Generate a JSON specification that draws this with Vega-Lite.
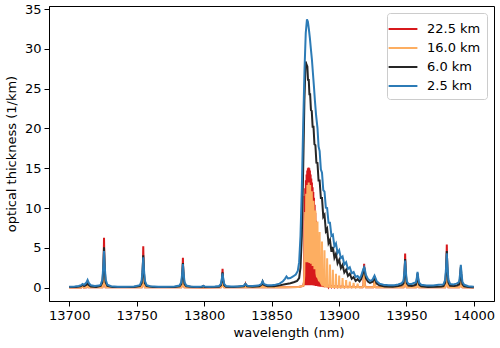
{
"$schema": "https://vega.github.io/schema/vega-lite/v6.json",
"width": 445, "height": 295,
"autosize": {"type": "none"},
"padding": {"left": 49, "top": 6, "right": 6, "bottom": 47},
"background": "white",
"datasets": {
"r": [
{"s":"22.5 km","x":13700,"y":0.02},{"s":"22.5 km","x":13709.0,"y":0.02},{"s":"22.5 km","x":13709.9,"y":0.3},{"s":"22.5 km","x":13710.8,"y":0.02},{"s":"22.5 km","x":13712.8,"y":0.03},{"s":"22.5 km","x":13713.6,"y":0.5},{"s":"22.5 km","x":13714.4,"y":0.03},
{"s":"22.5 km","x":13724.6,"y":0.03},{"s":"22.5 km","x":13725.3,"y":0.6},{"s":"22.5 km","x":13725.8,"y":6.26},{"s":"22.5 km","x":13726.3,"y":0.6},{"s":"22.5 km","x":13727.0,"y":0.03},
{"s":"22.5 km","x":13753.7,"y":0.03},{"s":"22.5 km","x":13754.4,"y":0.5},{"s":"22.5 km","x":13754.9,"y":5.2},{"s":"22.5 km","x":13755.4,"y":0.5},{"s":"22.5 km","x":13756.1,"y":0.03},
{"s":"22.5 km","x":13783.1,"y":0.03},{"s":"22.5 km","x":13783.8,"y":0.38},{"s":"22.5 km","x":13784.3,"y":3.74},{"s":"22.5 km","x":13784.8,"y":0.38},{"s":"22.5 km","x":13785.5,"y":0.03},
{"s":"22.5 km","x":13798.9,"y":0.02},{"s":"22.5 km","x":13799.4,"y":0.15},{"s":"22.5 km","x":13799.9,"y":0.02},
{"s":"22.5 km","x":13812.5,"y":0.03},{"s":"22.5 km","x":13813.2,"y":0.24},{"s":"22.5 km","x":13813.7,"y":2.35},{"s":"22.5 km","x":13814.2,"y":0.24},{"s":"22.5 km","x":13814.9,"y":0.03},
{"s":"22.5 km","x":13830.1,"y":0.04},{"s":"22.5 km","x":13830.7,"y":0.4},{"s":"22.5 km","x":13831.3,"y":0.04},
{"s":"22.5 km","x":13842.8,"y":0.05},{"s":"22.5 km","x":13843.4,"y":0.6},{"s":"22.5 km","x":13844.0,"y":0.05},
{"s":"22.5 km","x":13860,"y":0.05},{"s":"22.5 km","x":13870,"y":0.08},{"s":"22.5 km","x":13873.5,"y":0.2},{"s":"22.5 km","x":13874.0,"y":0.6},{"s":"22.5 km","x":13874.25,"y":0.3},
{"s":"22.5 km","x":13874.5,"y":11.5},{"s":"22.5 km","x":13874.75,"y":0.3},
{"s":"22.5 km","x":13875.0,"y":12.5},{"s":"22.5 km","x":13875.25,"y":0.3},
{"s":"22.5 km","x":13875.5,"y":13.5},{"s":"22.5 km","x":13875.75,"y":0.3},
{"s":"22.5 km","x":13876.0,"y":14.2},{"s":"22.5 km","x":13876.25,"y":0.3},
{"s":"22.5 km","x":13876.5,"y":14.7},{"s":"22.5 km","x":13876.75,"y":0.3},
{"s":"22.5 km","x":13877.0,"y":15.0},{"s":"22.5 km","x":13877.25,"y":0.3},
{"s":"22.5 km","x":13877.5,"y":15.1},{"s":"22.5 km","x":13877.75,"y":0.3},
{"s":"22.5 km","x":13878.0,"y":15.0},{"s":"22.5 km","x":13878.25,"y":0.3},
{"s":"22.5 km","x":13878.5,"y":14.7},{"s":"22.5 km","x":13878.75,"y":0.3},
{"s":"22.5 km","x":13879.0,"y":14.2},{"s":"22.5 km","x":13879.25,"y":0.3},
{"s":"22.5 km","x":13879.5,"y":13.7},{"s":"22.5 km","x":13879.75,"y":0.3},
{"s":"22.5 km","x":13880.0,"y":13.2},{"s":"22.5 km","x":13880.25,"y":0.3},
{"s":"22.5 km","x":13880.5,"y":12.6},{"s":"22.5 km","x":13880.75,"y":0.3},
{"s":"22.5 km","x":13881.0,"y":12.0},{"s":"22.5 km","x":13881.25,"y":0.25},
{"s":"22.5 km","x":13881.5,"y":11.3},{"s":"22.5 km","x":13881.75,"y":0.25},
{"s":"22.5 km","x":13882.0,"y":10.4},{"s":"22.5 km","x":13882.25,"y":0.25},
{"s":"22.5 km","x":13882.5,"y":9.4},{"s":"22.5 km","x":13882.75,"y":0.2},
{"s":"22.5 km","x":13883.0,"y":8.4},{"s":"22.5 km","x":13883.25,"y":0.2},
{"s":"22.5 km","x":13883.5,"y":7.4},{"s":"22.5 km","x":13883.75,"y":0.2},
{"s":"22.5 km","x":13884.0,"y":6.3},{"s":"22.5 km","x":13884.25,"y":0.2},
{"s":"22.5 km","x":13884.5,"y":5.3},{"s":"22.5 km","x":13884.75,"y":0.15},
{"s":"22.5 km","x":13885.0,"y":4.5},{"s":"22.5 km","x":13885.25,"y":0.15},
{"s":"22.5 km","x":13885.5,"y":3.8},{"s":"22.5 km","x":13885.75,"y":0.15},
{"s":"22.5 km","x":13886.0,"y":3.2},{"s":"22.5 km","x":13886.25,"y":0.12},
{"s":"22.5 km","x":13886.5,"y":2.7},{"s":"22.5 km","x":13886.75,"y":0.12},
{"s":"22.5 km","x":13887.0,"y":2.2},{"s":"22.5 km","x":13887.25,"y":0.1},
{"s":"22.5 km","x":13887.5,"y":1.8},{"s":"22.5 km","x":13887.75,"y":0.1},
{"s":"22.5 km","x":13888.0,"y":1.5},{"s":"22.5 km","x":13888.25,"y":0.08},
{"s":"22.5 km","x":13888.5,"y":1.2},{"s":"22.5 km","x":13888.75,"y":0.08},
{"s":"22.5 km","x":13889.0,"y":0.95},{"s":"22.5 km","x":13889.25,"y":0.06},
{"s":"22.5 km","x":13889.5,"y":0.8},{"s":"22.5 km","x":13889.75,"y":0.06},
{"s":"22.5 km","x":13890.0,"y":0.65},{"s":"22.5 km","x":13890.25,"y":0.05},
{"s":"22.5 km","x":13890.5,"y":0.55},{"s":"22.5 km","x":13890.9,"y":0.05},
{"s":"22.5 km","x":13891.25,"y":0.4},{"s":"22.5 km","x":13892.3,"y":0.04},{"s":"22.5 km","x":13893.35,"y":0.35},{"s":"22.5 km","x":13894.45,"y":0.04},{"s":"22.5 km","x":13895.5,"y":0.3},{"s":"22.5 km","x":13896.65,"y":0.04},{"s":"22.5 km","x":13897.8,"y":0.27},{"s":"22.5 km","x":13899.0,"y":0.04},{"s":"22.5 km","x":13900.2,"y":0.25},{"s":"22.5 km","x":13901.45,"y":0.03},{"s":"22.5 km","x":13902.7,"y":0.22},{"s":"22.5 km","x":13904.0,"y":0.03},{"s":"22.5 km","x":13905.35,"y":0.2},{"s":"22.5 km","x":13906.7,"y":0.03},{"s":"22.5 km","x":13908.05,"y":0.18},{"s":"22.5 km","x":13909.5,"y":0.03},{"s":"22.5 km","x":13910.9,"y":0.17},{"s":"22.5 km","x":13912.4,"y":0.03},{"s":"22.5 km","x":13913.85,"y":0.16},{"s":"22.5 km","x":13915.3,"y":0.03},
{"s":"22.5 km","x":13917.5,"y":0.04},{"s":"22.5 km","x":13918.2,"y":0.3},{"s":"22.5 km","x":13918.7,"y":3.0},{"s":"22.5 km","x":13919.2,"y":0.3},{"s":"22.5 km","x":13920.0,"y":0.04},
{"s":"22.5 km","x":13925.6,"y":0.03},{"s":"22.5 km","x":13925.9,"y":0.13},{"s":"22.5 km","x":13926.4,"y":1.3},{"s":"22.5 km","x":13926.9,"y":0.13},{"s":"22.5 km","x":13927.4,"y":0.03},
{"s":"22.5 km","x":13947.9,"y":0.03},{"s":"22.5 km","x":13948.6,"y":0.43},{"s":"22.5 km","x":13949.1,"y":4.28},{"s":"22.5 km","x":13949.6,"y":0.43},{"s":"22.5 km","x":13950.3,"y":0.03},
{"s":"22.5 km","x":13957.3,"y":0.03},{"s":"22.5 km","x":13957.8,"y":0.16},{"s":"22.5 km","x":13958.3,"y":1.6},{"s":"22.5 km","x":13958.8,"y":0.16},{"s":"22.5 km","x":13959.3,"y":0.03},
{"s":"22.5 km","x":13978.8,"y":0.03},{"s":"22.5 km","x":13979.5,"y":0.54},{"s":"22.5 km","x":13980.0,"y":5.4},{"s":"22.5 km","x":13980.5,"y":0.54},{"s":"22.5 km","x":13981.2,"y":0.03},
{"s":"22.5 km","x":13989.2,"y":0.03},{"s":"22.5 km","x":13989.9,"y":0.24},{"s":"22.5 km","x":13990.4,"y":2.4},{"s":"22.5 km","x":13990.9,"y":0.24},{"s":"22.5 km","x":13991.6,"y":0.03},
{"s":"22.5 km","x":14000,"y":0.02}
],
"o": [
{"s":"16.0 km","x":13700,"y":0.02},{"s":"16.0 km","x":13709.0,"y":0.02},{"s":"16.0 km","x":13709.9,"y":0.25},{"s":"16.0 km","x":13710.8,"y":0.02},{"s":"16.0 km","x":13712.8,"y":0.03},{"s":"16.0 km","x":13713.6,"y":0.4},{"s":"16.0 km","x":13714.4,"y":0.03},
{"s":"16.0 km","x":13724.6,"y":0.03},{"s":"16.0 km","x":13725.3,"y":0.5},{"s":"16.0 km","x":13725.8,"y":4.4},{"s":"16.0 km","x":13726.3,"y":0.5},{"s":"16.0 km","x":13727.0,"y":0.03},
{"s":"16.0 km","x":13753.7,"y":0.03},{"s":"16.0 km","x":13754.4,"y":0.4},{"s":"16.0 km","x":13754.9,"y":3.6},{"s":"16.0 km","x":13755.4,"y":0.4},{"s":"16.0 km","x":13756.1,"y":0.03},
{"s":"16.0 km","x":13783.1,"y":0.03},{"s":"16.0 km","x":13783.8,"y":0.3},{"s":"16.0 km","x":13784.3,"y":2.6},{"s":"16.0 km","x":13784.8,"y":0.3},{"s":"16.0 km","x":13785.5,"y":0.03},
{"s":"16.0 km","x":13798.9,"y":0.02},{"s":"16.0 km","x":13799.4,"y":0.12},{"s":"16.0 km","x":13799.9,"y":0.02},
{"s":"16.0 km","x":13812.5,"y":0.03},{"s":"16.0 km","x":13813.2,"y":0.18},{"s":"16.0 km","x":13813.7,"y":1.6},{"s":"16.0 km","x":13814.2,"y":0.18},{"s":"16.0 km","x":13814.9,"y":0.03},
{"s":"16.0 km","x":13830.1,"y":0.04},{"s":"16.0 km","x":13830.7,"y":0.35},{"s":"16.0 km","x":13831.3,"y":0.04},
{"s":"16.0 km","x":13842.8,"y":0.05},{"s":"16.0 km","x":13843.4,"y":0.5},{"s":"16.0 km","x":13844.0,"y":0.05},
{"s":"16.0 km","x":13860,"y":0.05},{"s":"16.0 km","x":13870,"y":0.08},{"s":"16.0 km","x":13873.8,"y":0.25},{"s":"16.0 km","x":13874.3,"y":1.5},{"s":"16.0 km","x":13874.6,"y":6.0},
{"s":"16.0 km","x":13875.0,"y":9.5},{"s":"16.0 km","x":13875.37,"y":3.2},{"s":"16.0 km","x":13875.75,"y":11.8},{"s":"16.0 km","x":13876.17,"y":3.2},{"s":"16.0 km","x":13876.6,"y":12.9},{"s":"16.0 km","x":13877.1,"y":3.2},{"s":"16.0 km","x":13877.6,"y":13.2},{"s":"16.0 km","x":13878.12,"y":3.1},{"s":"16.0 km","x":13878.65,"y":12.9},{"s":"16.0 km","x":13879.25,"y":3.0},{"s":"16.0 km","x":13879.85,"y":12.1},{"s":"16.0 km","x":13880.5,"y":2.7},{"s":"16.0 km","x":13881.15,"y":10.9},{"s":"16.0 km","x":13881.85,"y":2.3},{"s":"16.0 km","x":13882.55,"y":9.7},{"s":"16.0 km","x":13883.3,"y":1.8},
{"s":"16.0 km","x":13883.8,"y":1.3},{"s":"16.0 km","x":13884.1,"y":8.3},{"s":"16.0 km","x":13884.4,"y":1.3},
{"s":"16.0 km","x":13885.4,"y":0.8},{"s":"16.0 km","x":13885.7,"y":7.0},{"s":"16.0 km","x":13886.0,"y":0.8},
{"s":"16.0 km","x":13887.15,"y":0.45},{"s":"16.0 km","x":13887.45,"y":5.8},{"s":"16.0 km","x":13887.75,"y":0.45},
{"s":"16.0 km","x":13889.0,"y":0.25},{"s":"16.0 km","x":13889.3,"y":4.7},{"s":"16.0 km","x":13889.6,"y":0.25},
{"s":"16.0 km","x":13890.95,"y":0.15},{"s":"16.0 km","x":13891.25,"y":3.7},{"s":"16.0 km","x":13891.55,"y":0.15},
{"s":"16.0 km","x":13893.05,"y":0.1},{"s":"16.0 km","x":13893.35,"y":2.9},{"s":"16.0 km","x":13893.65,"y":0.1},
{"s":"16.0 km","x":13895.2,"y":0.08},{"s":"16.0 km","x":13895.5,"y":2.25},{"s":"16.0 km","x":13895.8,"y":0.08},
{"s":"16.0 km","x":13897.5,"y":0.06},{"s":"16.0 km","x":13897.8,"y":1.75},{"s":"16.0 km","x":13898.1,"y":0.06},
{"s":"16.0 km","x":13899.9,"y":0.05},{"s":"16.0 km","x":13900.2,"y":1.5},{"s":"16.0 km","x":13900.5,"y":0.05},
{"s":"16.0 km","x":13902.4,"y":0.05},{"s":"16.0 km","x":13902.7,"y":1.2},{"s":"16.0 km","x":13903.0,"y":0.05},
{"s":"16.0 km","x":13905.05,"y":0.05},{"s":"16.0 km","x":13905.35,"y":0.95},{"s":"16.0 km","x":13905.65,"y":0.05},
{"s":"16.0 km","x":13907.75,"y":0.05},{"s":"16.0 km","x":13908.05,"y":0.75},{"s":"16.0 km","x":13908.35,"y":0.05},
{"s":"16.0 km","x":13910.6,"y":0.05},{"s":"16.0 km","x":13910.9,"y":0.6},{"s":"16.0 km","x":13911.2,"y":0.05},
{"s":"16.0 km","x":13913.55,"y":0.05},{"s":"16.0 km","x":13913.85,"y":0.5},{"s":"16.0 km","x":13914.15,"y":0.05},
{"s":"16.0 km","x":13917.5,"y":0.05},{"s":"16.0 km","x":13918.2,"y":0.25},{"s":"16.0 km","x":13918.7,"y":2.5},{"s":"16.0 km","x":13919.2,"y":0.25},{"s":"16.0 km","x":13920.0,"y":0.04},
{"s":"16.0 km","x":13925.6,"y":0.03},{"s":"16.0 km","x":13925.9,"y":0.1},{"s":"16.0 km","x":13926.4,"y":1.0},{"s":"16.0 km","x":13926.9,"y":0.1},{"s":"16.0 km","x":13927.4,"y":0.03},
{"s":"16.0 km","x":13947.9,"y":0.03},{"s":"16.0 km","x":13948.6,"y":0.3},{"s":"16.0 km","x":13949.1,"y":3.0},{"s":"16.0 km","x":13949.6,"y":0.3},{"s":"16.0 km","x":13950.3,"y":0.03},
{"s":"16.0 km","x":13957.3,"y":0.03},{"s":"16.0 km","x":13957.8,"y":0.12},{"s":"16.0 km","x":13958.3,"y":1.2},{"s":"16.0 km","x":13958.8,"y":0.12},{"s":"16.0 km","x":13959.3,"y":0.03},
{"s":"16.0 km","x":13978.8,"y":0.03},{"s":"16.0 km","x":13979.5,"y":0.38},{"s":"16.0 km","x":13980.0,"y":3.8},{"s":"16.0 km","x":13980.5,"y":0.38},{"s":"16.0 km","x":13981.2,"y":0.03},
{"s":"16.0 km","x":13989.2,"y":0.03},{"s":"16.0 km","x":13989.9,"y":0.18},{"s":"16.0 km","x":13990.4,"y":1.8},{"s":"16.0 km","x":13990.9,"y":0.18},{"s":"16.0 km","x":13991.6,"y":0.03},
{"s":"16.0 km","x":14000,"y":0.02}
],
"k": [
{"s":"6.0 km","x":13700,"y":0.06},{"s":"6.0 km","x":13705,"y":0.08},{"s":"6.0 km","x":13708.5,"y":0.15},{"s":"6.0 km","x":13709.9,"y":0.35},{"s":"6.0 km","x":13711,"y":0.2},{"s":"6.0 km","x":13712.8,"y":0.35},{"s":"6.0 km","x":13713.6,"y":0.7},{"s":"6.0 km","x":13714.4,"y":0.35},{"s":"6.0 km","x":13716,"y":0.12},{"s":"6.0 km","x":13720,"y":0.08},
{"s":"6.0 km","x":13723.3,"y":0.21},{"s":"6.0 km","x":13724.6,"y":0.67},{"s":"6.0 km","x":13725.3,"y":2.34},{"s":"6.0 km","x":13725.8,"y":5.08},{"s":"6.0 km","x":13726.3,"y":2.34},{"s":"6.0 km","x":13727.0,"y":0.67},{"s":"6.0 km","x":13728.3,"y":0.21},
{"s":"6.0 km","x":13732,"y":0.08},{"s":"6.0 km","x":13740,"y":0.06},{"s":"6.0 km","x":13748,"y":0.08},
{"s":"6.0 km","x":13752.4,"y":0.18},{"s":"6.0 km","x":13753.7,"y":0.55},{"s":"6.0 km","x":13754.4,"y":1.88},{"s":"6.0 km","x":13754.9,"y":4.07},{"s":"6.0 km","x":13755.4,"y":1.88},{"s":"6.0 km","x":13756.1,"y":0.55},{"s":"6.0 km","x":13757.4,"y":0.18},
{"s":"6.0 km","x":13762,"y":0.07},{"s":"6.0 km","x":13770,"y":0.06},{"s":"6.0 km","x":13778,"y":0.08},
{"s":"6.0 km","x":13781.8,"y":0.15},{"s":"6.0 km","x":13783.1,"y":0.43},{"s":"6.0 km","x":13783.8,"y":1.45},{"s":"6.0 km","x":13784.3,"y":3.1},{"s":"6.0 km","x":13784.8,"y":1.45},{"s":"6.0 km","x":13785.5,"y":0.43},{"s":"6.0 km","x":13786.8,"y":0.15},
{"s":"6.0 km","x":13792,"y":0.06},{"s":"6.0 km","x":13798.4,"y":0.08},{"s":"6.0 km","x":13799.4,"y":0.18},{"s":"6.0 km","x":13800.4,"y":0.08},{"s":"6.0 km","x":13805,"y":0.06},
{"s":"6.0 km","x":13811.2,"y":0.11},{"s":"6.0 km","x":13812.5,"y":0.29},{"s":"6.0 km","x":13813.2,"y":0.92},{"s":"6.0 km","x":13813.7,"y":1.93},{"s":"6.0 km","x":13814.2,"y":0.92},{"s":"6.0 km","x":13814.9,"y":0.29},{"s":"6.0 km","x":13816.2,"y":0.11},
{"s":"6.0 km","x":13822,"y":0.08},{"s":"6.0 km","x":13829.5,"y":0.16},{"s":"6.0 km","x":13830.7,"y":0.45},{"s":"6.0 km","x":13831.9,"y":0.16},{"s":"6.0 km","x":13836,"y":0.12},{"s":"6.0 km","x":13841,"y":0.18},{"s":"6.0 km","x":13842.6,"y":0.35},{"s":"6.0 km","x":13843.4,"y":0.75},{"s":"6.0 km","x":13844.2,"y":0.35},{"s":"6.0 km","x":13847,"y":0.18},{"s":"6.0 km","x":13852,"y":0.18},{"s":"6.0 km","x":13856,"y":0.28},{"s":"6.0 km","x":13860,"y":0.42},{"s":"6.0 km","x":13864,"y":0.55},{"s":"6.0 km","x":13867,"y":0.7},{"s":"6.0 km","x":13869,"y":0.85},{"s":"6.0 km","x":13870.5,"y":1.2},{"s":"6.0 km","x":13871.5,"y":2.5},{"s":"6.0 km","x":13872.5,"y":6.5},{"s":"6.0 km","x":13873.5,"y":15.0},{"s":"6.0 km","x":13874.4,"y":23.5},{"s":"6.0 km","x":13875.3,"y":28.4},
{"s":"6.0 km","x":13876.0,"y":28.0},{"s":"6.0 km","x":13876.6,"y":27.8},{"s":"6.0 km","x":13877.1,"y":26.0},{"s":"6.0 km","x":13877.6,"y":26.2},{"s":"6.0 km","x":13878.12,"y":24.3},{"s":"6.0 km","x":13878.65,"y":24.3},{"s":"6.0 km","x":13879.25,"y":22.3},{"s":"6.0 km","x":13879.85,"y":22.2},{"s":"6.0 km","x":13880.5,"y":20.2},{"s":"6.0 km","x":13881.15,"y":20.2},{"s":"6.0 km","x":13881.85,"y":18.0},{"s":"6.0 km","x":13882.55,"y":17.9},{"s":"6.0 km","x":13883.3,"y":15.7},
{"s":"6.0 km","x":13884.1,"y":15.65},{"s":"6.0 km","x":13884.9,"y":13.45},{"s":"6.0 km","x":13885.7,"y":13.45},{"s":"6.0 km","x":13886.6,"y":11.25},{"s":"6.0 km","x":13887.45,"y":11.25},{"s":"6.0 km","x":13888.4,"y":8.9},{"s":"6.0 km","x":13889.3,"y":9.15},{"s":"6.0 km","x":13890.3,"y":7.1},{"s":"6.0 km","x":13891.25,"y":7.4},{"s":"6.0 km","x":13892.3,"y":5.6},{"s":"6.0 km","x":13893.35,"y":6.0},{"s":"6.0 km","x":13894.45,"y":4.5},{"s":"6.0 km","x":13895.5,"y":5.1},{"s":"6.0 km","x":13896.65,"y":3.75},{"s":"6.0 km","x":13897.8,"y":4.25},{"s":"6.0 km","x":13899.0,"y":3.05},{"s":"6.0 km","x":13900.2,"y":3.5},{"s":"6.0 km","x":13901.45,"y":2.45},{"s":"6.0 km","x":13902.7,"y":2.85},{"s":"6.0 km","x":13904.0,"y":1.9},{"s":"6.0 km","x":13905.35,"y":2.25},{"s":"6.0 km","x":13906.7,"y":1.47},{"s":"6.0 km","x":13908.05,"y":1.75},{"s":"6.0 km","x":13909.5,"y":1.1},{"s":"6.0 km","x":13910.9,"y":1.32},{"s":"6.0 km","x":13912.4,"y":0.83},{"s":"6.0 km","x":13913.85,"y":1.05},{"s":"6.0 km","x":13915.3,"y":0.78},{"s":"6.0 km","x":13916.4,"y":1.05},
{"s":"6.0 km","x":13917.5,"y":1.6},{"s":"6.0 km","x":13918.2,"y":2.1},{"s":"6.0 km","x":13918.7,"y":2.6},{"s":"6.0 km","x":13919.2,"y":2.0},{"s":"6.0 km","x":13920,"y":1.2},{"s":"6.0 km","x":13921.5,"y":0.75},{"s":"6.0 km","x":13923,"y":0.6},{"s":"6.0 km","x":13925,"y":0.75},{"s":"6.0 km","x":13925.9,"y":1.05},{"s":"6.0 km","x":13926.4,"y":1.4},{"s":"6.0 km","x":13926.9,"y":0.95},{"s":"6.0 km","x":13928,"y":0.5},{"s":"6.0 km","x":13930,"y":0.3},{"s":"6.0 km","x":13934,"y":0.15},{"s":"6.0 km","x":13940,"y":0.12},{"s":"6.0 km","x":13944,"y":0.2},
{"s":"6.0 km","x":13946.6,"y":0.3},{"s":"6.0 km","x":13947.9,"y":0.55},{"s":"6.0 km","x":13948.6,"y":1.7},{"s":"6.0 km","x":13949.1,"y":3.6},{"s":"6.0 km","x":13949.6,"y":1.7},{"s":"6.0 km","x":13950.3,"y":0.55},{"s":"6.0 km","x":13951.6,"y":0.25},{"s":"6.0 km","x":13954,"y":0.2},{"s":"6.0 km","x":13956,"y":0.3},
{"s":"6.0 km","x":13957.1,"y":0.35},{"s":"6.0 km","x":13957.8,"y":0.9},{"s":"6.0 km","x":13958.3,"y":1.8},{"s":"6.0 km","x":13958.8,"y":0.9},{"s":"6.0 km","x":13959.5,"y":0.35},{"s":"6.0 km","x":13961,"y":0.15},{"s":"6.0 km","x":13966,"y":0.08},{"s":"6.0 km","x":13972,"y":0.1},{"s":"6.0 km","x":13976,"y":0.15},
{"s":"6.0 km","x":13977.5,"y":0.2},{"s":"6.0 km","x":13978.8,"y":0.62},{"s":"6.0 km","x":13979.5,"y":2.12},{"s":"6.0 km","x":13980.0,"y":4.6},{"s":"6.0 km","x":13980.5,"y":2.12},{"s":"6.0 km","x":13981.2,"y":0.62},{"s":"6.0 km","x":13982.5,"y":0.22},{"s":"6.0 km","x":13985.5,"y":0.2},{"s":"6.0 km","x":13987.9,"y":0.3},
{"s":"6.0 km","x":13989.2,"y":0.42},{"s":"6.0 km","x":13989.9,"y":1.25},{"s":"6.0 km","x":13990.4,"y":2.6},{"s":"6.0 km","x":13990.9,"y":1.25},{"s":"6.0 km","x":13991.6,"y":0.4},{"s":"6.0 km","x":13992.9,"y":0.15},{"s":"6.0 km","x":13996,"y":0.06},{"s":"6.0 km","x":14000,"y":0.05}
],
"b": [
{"s":"2.5 km","x":13700,"y":0.12},{"s":"2.5 km","x":13704,"y":0.15},{"s":"2.5 km","x":13707,"y":0.2},{"s":"2.5 km","x":13708.8,"y":0.3},{"s":"2.5 km","x":13709.9,"y":0.45},{"s":"2.5 km","x":13711,"y":0.35},{"s":"2.5 km","x":13712.6,"y":0.6},{"s":"2.5 km","x":13713.6,"y":0.95},{"s":"2.5 km","x":13714.6,"y":0.55},{"s":"2.5 km","x":13716,"y":0.3},{"s":"2.5 km","x":13719,"y":0.2},{"s":"2.5 km","x":13722,"y":0.25},
{"s":"2.5 km","x":13723.3,"y":0.35},{"s":"2.5 km","x":13724.6,"y":1.02},{"s":"2.5 km","x":13725.3,"y":2.81},{"s":"2.5 km","x":13725.8,"y":4.6},{"s":"2.5 km","x":13726.3,"y":2.81},{"s":"2.5 km","x":13727.0,"y":1.02},{"s":"2.5 km","x":13728.3,"y":0.35},
{"s":"2.5 km","x":13731,"y":0.18},{"s":"2.5 km","x":13736,"y":0.12},{"s":"2.5 km","x":13742,"y":0.12},{"s":"2.5 km","x":13748,"y":0.14},
{"s":"2.5 km","x":13752.4,"y":0.31},{"s":"2.5 km","x":13753.7,"y":0.86},{"s":"2.5 km","x":13754.4,"y":2.34},{"s":"2.5 km","x":13754.9,"y":3.8},{"s":"2.5 km","x":13755.4,"y":2.34},{"s":"2.5 km","x":13756.1,"y":0.86},{"s":"2.5 km","x":13757.4,"y":0.31},
{"s":"2.5 km","x":13760,"y":0.16},{"s":"2.5 km","x":13766,"y":0.12},{"s":"2.5 km","x":13772,"y":0.12},{"s":"2.5 km","x":13778,"y":0.14},
{"s":"2.5 km","x":13781.8,"y":0.26},{"s":"2.5 km","x":13783.1,"y":0.69},{"s":"2.5 km","x":13783.8,"y":1.84},{"s":"2.5 km","x":13784.3,"y":2.95},{"s":"2.5 km","x":13784.8,"y":1.84},{"s":"2.5 km","x":13785.5,"y":0.69},{"s":"2.5 km","x":13786.8,"y":0.26},
{"s":"2.5 km","x":13790,"y":0.14},{"s":"2.5 km","x":13795,"y":0.12},{"s":"2.5 km","x":13798.3,"y":0.15},{"s":"2.5 km","x":13799.4,"y":0.22},{"s":"2.5 km","x":13800.5,"y":0.14},{"s":"2.5 km","x":13804,"y":0.12},{"s":"2.5 km","x":13808,"y":0.14},
{"s":"2.5 km","x":13811.2,"y":0.2},{"s":"2.5 km","x":13812.5,"y":0.46},{"s":"2.5 km","x":13813.2,"y":1.16},{"s":"2.5 km","x":13813.7,"y":1.8},{"s":"2.5 km","x":13814.2,"y":1.16},{"s":"2.5 km","x":13814.9,"y":0.46},{"s":"2.5 km","x":13816.2,"y":0.2},
{"s":"2.5 km","x":13820,"y":0.14},{"s":"2.5 km","x":13825,"y":0.15},{"s":"2.5 km","x":13829.2,"y":0.22},{"s":"2.5 km","x":13830.2,"y":0.36},{"s":"2.5 km","x":13830.7,"y":0.46},{"s":"2.5 km","x":13831.2,"y":0.36},{"s":"2.5 km","x":13832.2,"y":0.22},{"s":"2.5 km","x":13836,"y":0.2},{"s":"2.5 km","x":13840,"y":0.25},{"s":"2.5 km","x":13842.2,"y":0.4},{"s":"2.5 km","x":13842.9,"y":0.6},{"s":"2.5 km","x":13843.4,"y":0.8},{"s":"2.5 km","x":13843.9,"y":0.6},{"s":"2.5 km","x":13844.6,"y":0.42},{"s":"2.5 km","x":13847,"y":0.3},{"s":"2.5 km","x":13850,"y":0.3},{"s":"2.5 km","x":13853,"y":0.35},{"s":"2.5 km","x":13856,"y":0.5},{"s":"2.5 km","x":13858.5,"y":0.8},{"s":"2.5 km","x":13860,"y":1.1},{"s":"2.5 km","x":13861.1,"y":1.4},{"s":"2.5 km","x":13862.2,"y":1.15},{"s":"2.5 km","x":13864,"y":1.2},{"s":"2.5 km","x":13866,"y":1.4},{"s":"2.5 km","x":13868,"y":1.65},{"s":"2.5 km","x":13869.5,"y":2.1},{"s":"2.5 km","x":13870.5,"y":3.2},{"s":"2.5 km","x":13871.5,"y":6.5},{"s":"2.5 km","x":13872.5,"y":12.5},{"s":"2.5 km","x":13873.5,"y":20.5},{"s":"2.5 km","x":13874.5,"y":27.5},{"s":"2.5 km","x":13875.4,"y":32.0},{"s":"2.5 km","x":13876.3,"y":33.7},{"s":"2.5 km","x":13877.0,"y":33.4},{"s":"2.5 km","x":13877.7,"y":32.5},{"s":"2.5 km","x":13878.5,"y":31.3},{"s":"2.5 km","x":13879.2,"y":30.0},{"s":"2.5 km","x":13880.0,"y":28.6},{"s":"2.5 km","x":13880.7,"y":27.0},{"s":"2.5 km","x":13881.5,"y":25.2},{"s":"2.5 km","x":13882.2,"y":23.5},{"s":"2.5 km","x":13883.1,"y":21.6},
{"s":"2.5 km","x":13884.1,"y":20.05},{"s":"2.5 km","x":13884.9,"y":17.75},{"s":"2.5 km","x":13885.7,"y":17.15},{"s":"2.5 km","x":13886.6,"y":14.85},{"s":"2.5 km","x":13887.45,"y":14.45},{"s":"2.5 km","x":13888.4,"y":12.25},{"s":"2.5 km","x":13889.3,"y":12.05},{"s":"2.5 km","x":13890.3,"y":10.05},{"s":"2.5 km","x":13891.25,"y":10.0},{"s":"2.5 km","x":13892.3,"y":8.15},{"s":"2.5 km","x":13893.35,"y":8.15},{"s":"2.5 km","x":13894.45,"y":6.5},{"s":"2.5 km","x":13895.5,"y":6.65},{"s":"2.5 km","x":13896.65,"y":5.2},{"s":"2.5 km","x":13897.8,"y":5.55},{"s":"2.5 km","x":13899.0,"y":4.35},{"s":"2.5 km","x":13900.2,"y":4.7},{"s":"2.5 km","x":13901.45,"y":3.7},{"s":"2.5 km","x":13902.7,"y":3.9},{"s":"2.5 km","x":13904.0,"y":2.9},{"s":"2.5 km","x":13905.35,"y":3.2},{"s":"2.5 km","x":13906.7,"y":2.35},{"s":"2.5 km","x":13908.05,"y":2.55},{"s":"2.5 km","x":13909.5,"y":1.8},{"s":"2.5 km","x":13910.9,"y":1.95},{"s":"2.5 km","x":13912.4,"y":1.35},{"s":"2.5 km","x":13913.85,"y":1.45},{"s":"2.5 km","x":13915.3,"y":1.15},{"s":"2.5 km","x":13916.4,"y":1.45},
{"s":"2.5 km","x":13917.5,"y":2.0},{"s":"2.5 km","x":13918.2,"y":2.35},{"s":"2.5 km","x":13918.7,"y":2.55},{"s":"2.5 km","x":13919.2,"y":2.3},{"s":"2.5 km","x":13920,"y":1.6},{"s":"2.5 km","x":13921.5,"y":1.1},{"s":"2.5 km","x":13923,"y":0.85},{"s":"2.5 km","x":13924.8,"y":0.95},{"s":"2.5 km","x":13925.8,"y":1.3},{"s":"2.5 km","x":13926.4,"y":1.5},{"s":"2.5 km","x":13927,"y":1.25},{"s":"2.5 km","x":13928,"y":0.8},{"s":"2.5 km","x":13930,"y":0.5},{"s":"2.5 km","x":13933,"y":0.35},{"s":"2.5 km","x":13937,"y":0.28},{"s":"2.5 km","x":13941,"y":0.3},{"s":"2.5 km","x":13944,"y":0.4},
{"s":"2.5 km","x":13946.6,"y":0.55},{"s":"2.5 km","x":13947.9,"y":0.85},{"s":"2.5 km","x":13948.6,"y":2.1},{"s":"2.5 km","x":13949.1,"y":3.4},{"s":"2.5 km","x":13949.6,"y":2.1},{"s":"2.5 km","x":13950.3,"y":0.8},{"s":"2.5 km","x":13951.6,"y":0.45},{"s":"2.5 km","x":13954,"y":0.45},{"s":"2.5 km","x":13956,"y":0.6},
{"s":"2.5 km","x":13957.1,"y":0.65},{"s":"2.5 km","x":13957.8,"y":1.27},{"s":"2.5 km","x":13958.3,"y":1.98},{"s":"2.5 km","x":13958.8,"y":1.27},{"s":"2.5 km","x":13959.5,"y":0.6},{"s":"2.5 km","x":13961,"y":0.35},{"s":"2.5 km","x":13965,"y":0.25},{"s":"2.5 km","x":13970,"y":0.25},{"s":"2.5 km","x":13974,"y":0.35},
{"s":"2.5 km","x":13977.5,"y":0.4},{"s":"2.5 km","x":13978.8,"y":0.96},{"s":"2.5 km","x":13979.5,"y":2.64},{"s":"2.5 km","x":13980.0,"y":4.3},{"s":"2.5 km","x":13980.5,"y":2.64},{"s":"2.5 km","x":13981.2,"y":0.96},{"s":"2.5 km","x":13982.5,"y":0.45},{"s":"2.5 km","x":13985,"y":0.4},{"s":"2.5 km","x":13987,"y":0.5},
{"s":"2.5 km","x":13987.9,"y":0.55},{"s":"2.5 km","x":13989.2,"y":0.75},{"s":"2.5 km","x":13989.9,"y":1.78},{"s":"2.5 km","x":13990.4,"y":2.85},{"s":"2.5 km","x":13990.9,"y":1.78},{"s":"2.5 km","x":13991.6,"y":0.7},{"s":"2.5 km","x":13992.9,"y":0.35},{"s":"2.5 km","x":13996,"y":0.18},{"s":"2.5 km","x":14000,"y":0.12}
]
},
"config": {
  "view": {"stroke": "#000000", "strokeWidth": 1},
  "font": "DejaVu Sans",
  "axis": {"domainColor": "#000000", "domainWidth": 1, "tickColor": "#000000", "tickWidth": 1, "tickSize": 5, "labelColor": "#000000", "titleColor": "#000000", "labelFont": "DejaVu Sans", "titleFont": "DejaVu Sans", "labelFontSize": 13, "titleFontSize": 13, "titleFontWeight": "normal", "grid": false},
  "legend": {"labelFont": "DejaVu Sans", "labelFontSize": 13, "labelColor": "#000000"}
},
"encoding": {
  "x": {"field": "x", "type": "quantitative", "scale": {"domain": [13685, 14015], "nice": false, "zero": false},
        "axis": {"values": [13700, 13750, 13800, 13850, 13900, 13950, 14000], "format": "d", "title": "wavelength (nm)", "labelPadding": 3, "titlePadding": 4, "titleX": 239.5, "titleAlign": "center"}},
  "y": {"field": "y", "type": "quantitative", "scale": {"domain": [-1.685, 35.39], "nice": false, "zero": false},
        "axis": {"values": [0, 5, 10, 15, 20, 25, 30, 35], "title": "optical thickness (1/km)", "labelPadding": 3, "titlePadding": 6}},
  "color": {"field": "s", "type": "nominal",
            "scale": {"domain": ["22.5 km", "16.0 km", "6.0 km", "2.5 km"], "range": ["#d7191c", "#fdae61", "#262626", "#2c7bb6"]},
            "legend": {"title": null, "orient": "top-right", "offset": 7, "symbolType": "M-1.6,0H1.6", "symbolSize": 324, "symbolStrokeWidth": 2, "padding": 6, "fillColor": "rgba(255,255,255,0.8)", "strokeColor": "#cccccc", "cornerRadius": 3, "rowPadding": 2, "labelOffset": 14}}
},
"layer": [
  {"data": {"name": "r"}, "mark": {"type": "line", "strokeWidth": 2, "clip": true}},
  {"data": {"name": "o"}, "mark": {"type": "line", "strokeWidth": 2, "clip": true}},
  {"data": {"name": "k"}, "mark": {"type": "line", "strokeWidth": 2, "clip": true}},
  {"data": {"name": "b"}, "mark": {"type": "line", "strokeWidth": 2, "clip": true}}
]
}
